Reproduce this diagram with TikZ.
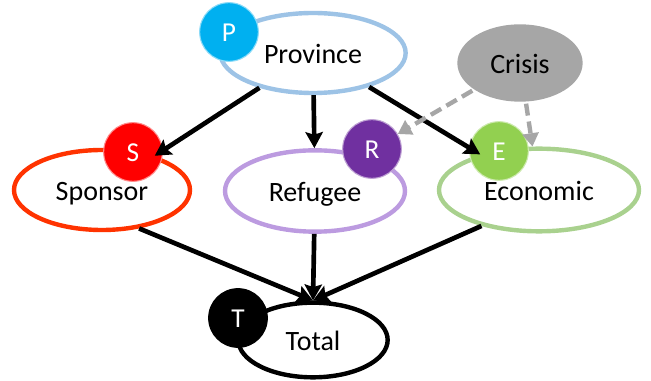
\documentclass[tikz,border=0pt]{standalone}
\usepackage{fontspec}
\setmainfont{Carlito}
\usetikzlibrary{shapes.geometric,arrows.meta}
\definecolor{provc}{HTML}{9DC3E6}
\definecolor{sponc}{HTML}{FF3300}
\definecolor{refc}{HTML}{BC9BE0}
\definecolor{ecoc}{HTML}{A9D18E}
\definecolor{crisc}{HTML}{A6A6A6}
\definecolor{pc}{HTML}{00B0F0}
\definecolor{sc}{HTML}{FF0000}
\definecolor{rc}{HTML}{7030A0}
\definecolor{ec}{HTML}{92D050}
\begin{document}
\begin{tikzpicture}[x=0.75pt,y=-0.75pt,
  var/.style={ellipse,draw,line width=3.3pt,fill=white,inner sep=0pt,text height=16.5pt,text depth=0pt,font=\fontsize{21}{24}\selectfont},
  tag/.style={circle,fill=#1,draw=#1!45,line width=0.8pt,text=white,inner sep=0pt,minimum size=44pt,text height=15pt,text depth=0pt,font=\fontsize{20.5}{22}\selectfont},
  edge/.style={line width=3.5pt,-{Stealth[length=12pt,width=13pt,inset=2pt]}},
  dedge/.style={line width=3.3pt,crisc,dash pattern=on 9pt off 4.5pt,-{Triangle[length=10pt,width=12pt]}}]
\useasboundingbox (0,0) rectangle (651,381);
\node[var,draw=provc,minimum width=139pt,minimum height=60pt] (prov) at (313,53) {Province};
\node[var,draw=none,fill=crisc,minimum width=94pt,minimum height=58pt] (cri) at (520,63) {Crisis};
\node[var,draw=sponc,minimum width=132pt,minimum height=60pt] (spon) at (102,190) {Sponsor};
\node[var,draw=refc,minimum width=135pt,minimum height=61pt] (ref) at (315,191) {Refugee};
\node[var,draw=ecoc,minimum width=150pt,minimum height=62pt] (eco) at (539,190) {Economic};
\node[var,draw=black,minimum width=112pt,minimum height=56pt] (tot) at (313,340) {Total};
\node[tag=pc] (P) at (229,32) {P};
\node[tag=sc] (S) at (133,152) {S};
\node[tag=rc] (R) at (372,149) {R};
\node[tag=ec] (E) at (499,151) {E};
\node[tag=black,draw=black] (T) at (238,318) {T};
\draw[edge] (prov) -- (spon);
\draw[edge] (prov) -- (ref);
\draw[edge] (prov) -- (eco);
\draw[dedge] (cri) -- (R);
\draw[dedge] (cri) -- (eco);
\draw[edge] (spon.-46) -- (tot.north);
\draw[edge] (ref) -- (tot.north);
\draw[edge] (eco.-148) -- (tot.north);
\end{tikzpicture}
\end{document}
